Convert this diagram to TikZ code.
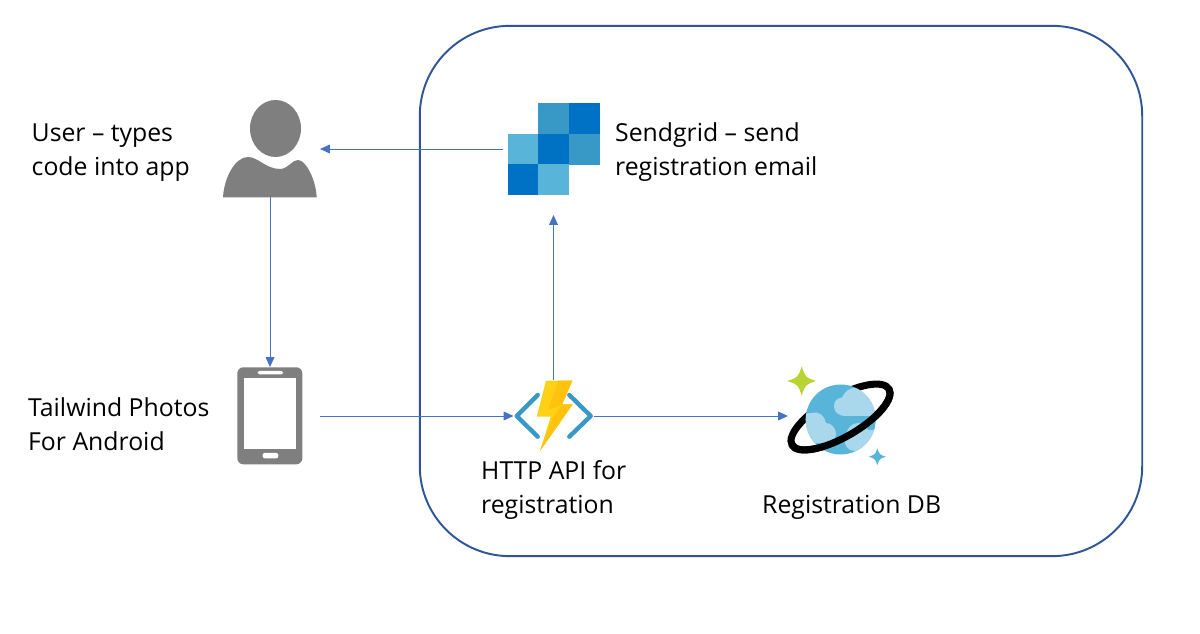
\documentclass[tikz,border=0pt]{standalone}
\usepackage{fontspec}
\setmainfont{Open Sans}
\usetikzlibrary{arrows.meta}
\definecolor{frameblue}{HTML}{2F5597}
\definecolor{edgeblue}{HTML}{4472C4}
\definecolor{icongray}{HTML}{7F7F7F}
\definecolor{azdark}{HTML}{0072C6}
\definecolor{azmid}{HTML}{3999C6}
\definecolor{azlight}{HTML}{59B4D9}
\definecolor{azpale}{HTML}{A9D7EC}
\definecolor{boltyellow}{HTML}{FCD116}
\definecolor{boltdark}{HTML}{FFC20E}
\definecolor{stargreen}{HTML}{B8D432}
\begin{document}
\begin{tikzpicture}[x=0.01cm,y=-0.01cm]
        \tikzstyle{icon}=[inner sep=0pt,outer sep=0pt]
        \tikzstyle{label}=[inner sep=0pt,anchor=west,align=left,font=\fontsize{7.05}{9.67}\selectfont]
        \tikzstyle{edge}=[draw=edgeblue,line width=0.22pt,-{Triangle[length=2.8pt,width=2.5pt]}]
        \useasboundingbox (0,0) rectangle (1200,634);
        \fill[white] (0,0) rectangle (1200,634);
        \node [icon,draw=frameblue,line width=0.55pt,rounded corners=0.9cm,minimum width=7.22cm,minimum height=5.3cm] (cloud) at (781,291) {};
        \node [icon,minimum width=1cm,minimum height=0.96cm] (user) at (270,149) {};
        \node [icon,minimum width=1cm,minimum height=1.32cm] (sendgrid) at (553.5,149) {};
        \node [icon,minimum width=1cm,minimum height=0.98cm] (phone) at (270,416) {};
        \node [icon,minimum width=0.8cm,minimum height=0.72cm] (api) at (553.5,416) {};
        \node [icon,minimum width=1.06cm,minimum height=1cm] (db) at (841,416) {};
        \node [label] (userlabel) at (31,153) {User -- types\\code into app};
        \node [label] (sendgridlabel) at (614.5,152) {Sendgrid -- send\\registration email};
        \node [label] (phonelabel) at (27.5,424) {Tailwind Photos\\For Android};
        \node [label] (apilabel) at (480.5,490) {HTTP API for\\registration};
        \node [label] (dblabel) at (761.5,507) {Registration DB};
        \fill[icongray] (275.5,128.5) ellipse [x radius=25.5,y radius=28.5];
        \fill[icongray] (223,197.5) .. controls (224,178) and (235,157) .. (248,157) .. controls (258,157) and (266,169) .. (280,169) .. controls (288,169) and (292,160) .. (298,160) .. controls (306,160) and (316,180) .. (316.7,197.5) -- cycle;
        \foreach \gx/\gy/\gc in {538.3/103.3/azmid,568.7/103.3/azdark,507.7/134/azlight,538.3/134/azdark,568.7/134/azmid,507.7/164/azdark,538.3/164/azlight}
          \fill[\gc] (\gx,\gy) rectangle ++(31,31);
        \fill[icongray,rounded corners=0.06cm] (237.3,367.3) rectangle (302.3,464.3);
        \fill[white] (244.3,378.3) rectangle (295.7,448.7);
        \fill[white,rounded corners=0.015cm] (257.7,371) rectangle (283,374.3);
        \fill[white,rounded corners=0.02cm] (262.7,453) rectangle (278.3,458.3);
        \draw[azmid,line width=1.25pt,line cap=round,line join=round] (537.7,395) -- (516.7,416) -- (537.7,436.7);
        \draw[azmid,line width=1.25pt,line cap=round,line join=round] (569.3,395) -- (590.7,416) -- (569.3,436.7);
        \fill[boltyellow] (546,380.7) -- (572.3,380.7) -- (562.3,404.3) -- (572.7,404.3) -- (540,451) -- (550.7,416.7) -- (536.7,416.7) -- cycle;
        \fill[boltdark] (558.3,380.7) -- (572.3,380.7) -- (562.3,404.3) -- (548,410) -- cycle;
        \fill[boltdark] (562.3,404.3) -- (572.7,404.3) -- (540,451) -- (552.7,418) -- cycle;
        \foreach \sx/\sy/\sr/\sc in {801.7/381/14.5/stargreen,877.3/456.7/8.5/azlight}
          \fill[\sc] (\sx-\sr,\sy) .. controls (\sx-0.25*\sr,\sy-0.25*\sr) .. (\sx,\sy-\sr) .. controls (\sx+0.25*\sr,\sy-0.25*\sr) .. (\sx+\sr,\sy) .. controls (\sx+0.25*\sr,\sy+0.25*\sr) .. (\sx,\sy+\sr) .. controls (\sx-0.25*\sr,\sy+0.25*\sr) .. (\sx-\sr,\sy) -- cycle;
        \begin{scope}[shift={(840.5,417)},rotate=30]
          \draw[black,line width=2pt] (0,0) ellipse [x radius=56,y radius=20];
        \end{scope}
        \fill[azlight] (840.7,419.5) circle [radius=35];
        \begin{scope}
          \clip (840.7,419.5) circle [radius=35];
          \fill[azpale] (846,416) .. controls (838,416) and (834,412) .. (834,406) .. controls (834,400) and (838,398) .. (842,397.5) .. controls (845,391) and (850,387.5) .. (855,388) .. controls (861,389) and (865,393) .. (867,397) -- (880,397) -- (880,416) -- cycle;
          \fill[azpale] (800,414) -- (812,413) .. controls (819,411) and (825,416) .. (826,423) .. controls (832,423) and (836,429) .. (836,434) .. controls (836,440) and (832,443) .. (827,443) -- (800,443) -- cycle;
          \fill[azpale] (850,450) .. controls (845,447) and (843,441) .. (846,435) .. controls (847,428) and (852,423) .. (858,423) .. controls (862,423) and (866,426) .. (868,430) -- (880,430) -- (880,456) -- cycle;
        \end{scope}
        \begin{scope}[shift={(840.5,417)},rotate=30]
          \draw[black,line width=2pt] (56,0) arc [start angle=0,end angle=180,x radius=56,y radius=20];
        \end{scope}
        \path[edge] (sendgrid) -- (user);
        \path[edge] (user) -- (phone);
        \path[edge] (phone) -- (api);
        \path[edge] (api) -- (sendgrid);
        \path[edge] (api) -- (db);
\end{tikzpicture}
\end{document}
